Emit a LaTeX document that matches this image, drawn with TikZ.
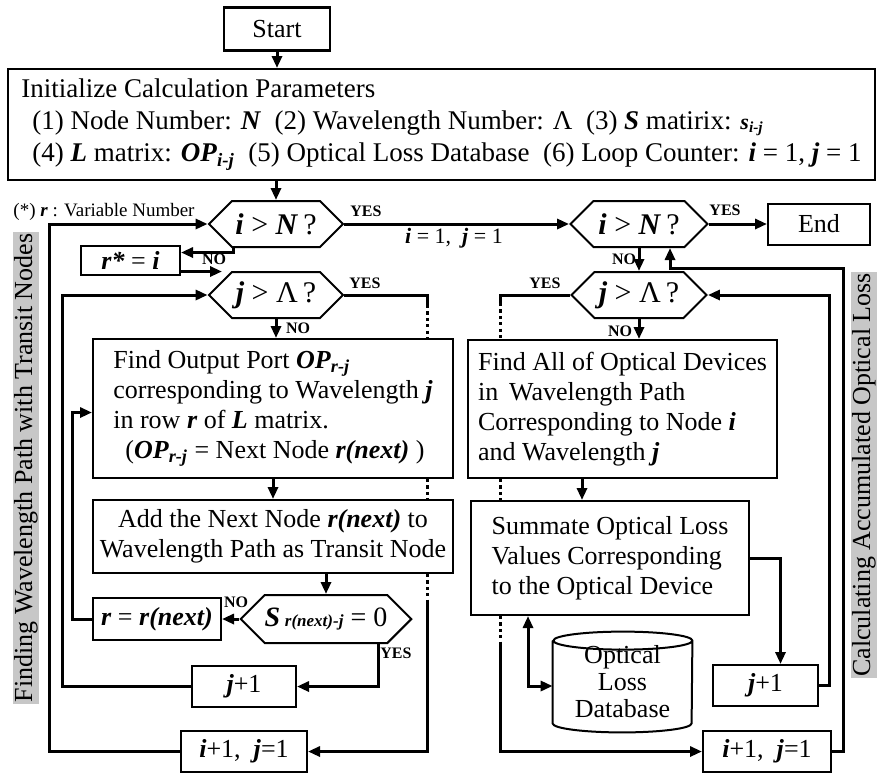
\documentclass[tikz,border=0pt]{standalone}
\usepackage{fontspec}
\setmainfont{Liberation Serif}
\usetikzlibrary{arrows.meta,shapes.symbols}
\newcommand{\bi}[1]{\textbf{\textit{#1}}}
\newcommand{\sbi}[1]{\textsubscript{\bi{#1}}}

\begin{document}
\begin{tikzpicture}[x=0.5pt, y=-0.5pt,
	every node/.style={font=\fontsize{13}{15}\selectfont, inner sep=0pt},
	box/.style={draw, line width=1pt},
	hexa/.style={draw, line width=1pt, shape=signal, signal to=east and west, signal pointer angle=90, minimum height=23pt, font=\fontsize{15}{17}\selectfont},
	tag/.style={font=\fontsize{8}{9}\selectfont\bfseries},
	line/.style={line width=1.5pt},
	arr/.style={line, -{Triangle[length=6pt,width=5pt]}},
	dbl/.style={line, {Triangle[length=6pt,width=5pt]}-{Triangle[length=6pt,width=5pt]}},
	hid/.style={line, dash pattern=on 1.6pt off 1.6pt},
	side/.style={rotate=90, fill=black!22, inner sep=0.8pt}]
	\useasboundingbox (0,0) rectangle (877,773);
	\node[box, line width=1.4pt, minimum width=53pt, minimum height=21.5pt] (start) at (277,29) {Start};
	\node[box, minimum width=433.5pt, minimum height=55.5pt, align=left, font=\fontsize{13.5}{16}\selectfont] (init) at (441.5,124.5) {Initialize Calculation Parameters\\
		\hspace*{5.5pt}(1) Node Number: \bi{N}\enspace(2) Wavelength Number: Λ\enspace(3) \bi{S} matirix: {\fontsize{11}{12}\selectfont\bi{s}\sbi{i-j}}\\
		\hspace*{5.5pt}(4) \bi{L} matrix: \bi{OP}\sbi{i-j}\enspace(5) Optical Loss Database\enspace(6) Loop Counter: \bi{i} = 1, \bi{j} = 1};
	\node[font=\fontsize{9.5}{11}\selectfont] (note) at (104,212) {(*) \bi{r} : Variable Number};
	\node[side] (lside) at (26,468) {Finding Wavelength Path with Transit Nodes};
	\node[side] (rside) at (864,475) {Calculating Accumulated Optical Loss};

	% left half: wavelength path
	\node[hexa, minimum width=67pt] (hexi) at (276,224) {\bi{i} > \bi{N}\,?};
	\node[box, minimum width=49.5pt, minimum height=14.5pt] (rstar) at (130.5,260.5) {\bi{r*} = \bi{i}};
	\node[hexa, minimum width=67pt] (hexj) at (276,295) {\bi{j} > Λ\,?};
	\node[box, minimum width=180pt, minimum height=69.5pt, align=left] (findop) at (273,408.5) {Find Output Port \bi{OP}\sbi{r-j}\\
		corresponding to Wavelength \bi{j}\\
		in row \bi{r} of \bi{L} matrix.\\
		\hspace*{6pt}(\bi{OP}\sbi{r-j} = Next Node \bi{r(next)} )};
	\node[box, minimum width=180pt, minimum height=36.5pt, align=center] (addnext) at (273,536.5) {Add the Next Node \bi{r(next)} to\\ Wavelength Path as Transit Node};
	\node[hexa, minimum width=81pt, minimum height=24pt, font=\fontsize{14}{16}\selectfont] (hexs) at (326,619) {\bi{S}\,{\fontsize{8.5}{9}\selectfont\bi{r(next)-j}} = 0};
	\node[box, minimum width=64pt, minimum height=21pt] (rnext) at (157,619) {\bi{r} = \bi{r(next)}};
	\node[box, minimum width=52pt, minimum height=20.5pt] (jinc) at (244,686.5) {\bi{j}+1};
	\node[box, minimum width=63pt, minimum height=20.5pt] (iinc) at (244,751.5) {\bi{i}+1,\enspace\bi{j}=1};

	% right half: optical loss
	\node[hexa, minimum width=68.5pt] (hexi2) at (639,224) {\bi{i} > \bi{N}\,?};
	\node[box, minimum width=51pt, minimum height=20.5pt] (endbox) at (819,224) {End};
	\node[hexa, minimum width=67.5pt] (hexj2) at (639,295) {\bi{j} > Λ\,?};
	\node[box, minimum width=154.5pt, minimum height=69pt, align=left] (finddev) at (622.5,409) {Find All of Optical Devices\\
		in\, Wavelength Path\\
		Corresponding to Node \bi{i}\\
		and Wavelength \bi{j}};
	\node[box, minimum width=139pt, minimum height=57pt, align=left] (summ) at (610,558) {Summate Optical Loss\\
		Values Corresponding\\
		to the Optical Device};
	\node[minimum width=69.5pt, minimum height=50pt, align=center, font=\fontsize{13}{13.5}\selectfont] (db) at (622.5,682) {Optical\\ Loss\\ Database};
	\draw[line width=1pt] ([yshift=-4.5pt]db.north west) -- ([yshift=4.5pt]db.south west) arc[start angle=180, end angle=360, x radius=34.75pt, y radius=4.5pt] -- ([yshift=-4.5pt]db.north east) arc[start angle=0, end angle=360, x radius=34.75pt, y radius=4.5pt];
	\node[box, minimum width=52.5pt, minimum height=20.5pt] (jinc2) at (765.5,685.5) {\bi{j}+1};
	\node[box, minimum width=64pt, minimum height=20.5pt] (iinc2) at (767,751.5) {\bi{i}+1,\enspace\bi{j}=1};

	% YES / NO tags
	\node[tag] (yes1) at (366,211) {YES};
	\node[font=\fontsize{11}{12}\selectfont] (ij1) at (454,238) {\bi{i} = 1,\enspace\bi{j} = 1};
	\node[tag] (yes2) at (725,210) {YES};
	\node[tag] (no1) at (214,259) {NO};
	\node[tag] (no2) at (624,259) {NO};
	\node[tag] (yes3) at (365,283) {YES};
	\node[tag] (yes4) at (545,283) {YES};
	\node[tag] (no3) at (298,328) {NO};
	\node[tag] (no4) at (620,331) {NO};
	\node[tag] (no5) at (236,602) {NO};
	\node[tag] (yes5) at (396,653) {YES};

	\coordinate (jin) at (222,271.5);
	\coordinate (lt) at (427,305);
	\coordinate (lb) at (427,600);
	\coordinate (rt) at (500,303);
	\coordinate (rb) at (500,645);
	\coordinate (rc) at (843,268);
	\coordinate (sin) at (582,0);
	\coordinate (dbc) at (528,0);

	\draw[arr] (start.south) -- (start.south |- init.north);
	\draw[arr] (init.south -| hexi.north) -- (hexi.north);
	\draw[arr] (hexi.east) -- (hexi2.west);
	\draw[arr] (hexi2.east) -- (endbox.west);
	\draw[arr] ([xshift=-21.5pt]hexi.south) |- ([yshift=4pt]rstar.east);
	\draw[arr] ([yshift=-5.5pt]rstar.east) -- (jin);
	\draw[arr] (iinc.west) -- ++(-131,0) |- (hexi.west);
	\draw[arr] (jinc.west) -- ++(-129,0) |- (hexj.west);
	\draw[arr] (rnext.west) -- ++(-20,0) |- ([yshift=-2pt]findop.west);
	\draw[arr] (hexj.south) -- (hexj.south |- findop.north);
	\draw[arr] (findop.south) -- (addnext.north);
	\draw[arr] (addnext.south -| hexs.north) -- (hexs.north);
	\draw[arr] (hexs.west) -- (rnext.east);
	\draw[arr] ([xshift=26pt]hexs.south) |- (jinc.east);
	% j > Lambda : YES, behind the boxes
	\draw[line] (hexj.east) -| (lt);
	\draw[hid] (lt) -- (lt |- findop.north);
	\draw[hid] (lt |- findop.south) -- (lt |- addnext.north);
	\draw[hid] (lt |- addnext.south) -- (lb);
	\draw[arr] (lb) |- (iinc.east);

	\draw[arr] (hexi2.south) -- (hexj2.north);
	\draw[arr] (hexj2.south) -- (hexj2.south |- finddev.north);
	\draw[arr] (sin |- finddev.south) -- (sin |- summ.north);
	\draw[arr] (summ.east) -| ([xshift=7.5pt]jinc2.north);
	\draw[dbl] (dbc |- summ.south) |- ([yshift=-2pt]db.west);
	\draw[arr] (jinc2.east) -- ++(10,0) |- (hexj2.east);
	\draw[arr] (iinc2.east) -| (rc) -| ([xshift=15.5pt]hexi2.south);
	\draw[line] (hexj2.west) -| (rt);
	\draw[hid] (rt) -- (rt |- finddev.north);
	\draw[hid] (rt |- finddev.south) -- (rt |- summ.north);
	\draw[hid] (rt |- summ.south) -- (rb);
	\draw[arr] (rb) |- (iinc2.west);
\end{tikzpicture}
\end{document}
